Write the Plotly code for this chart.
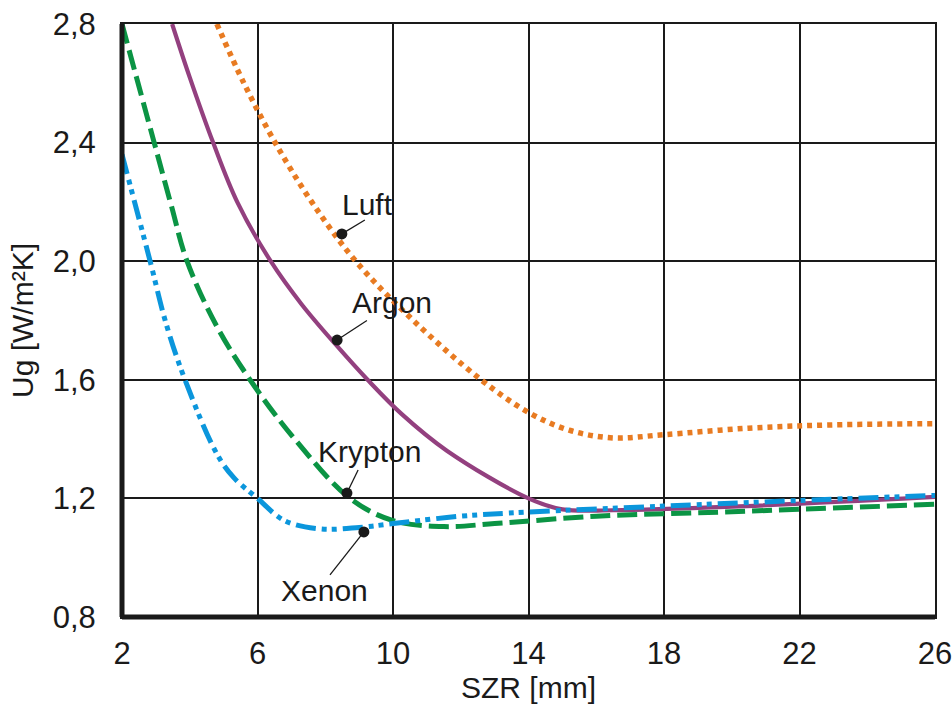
import plotly.graph_objects as go

# ---- data ----
luft_x = [4.8, 5.6, 6.52, 7.6, 8.9, 10.6, 12.6, 14, 15.2, 16.5, 18, 20.5, 23, 26]
luft_y = [2.8, 2.6, 2.4, 2.2, 2.0, 1.8, 1.6, 1.49, 1.43, 1.404, 1.415, 1.437, 1.448, 1.452]

argon_x = [3.48, 4.0, 4.69, 5.4, 6.39, 7.3, 8.3, 9.25, 10.25, 11.6, 14, 15, 16.5, 20, 26]
argon_y = [2.8, 2.62, 2.4, 2.2, 2.0, 1.855, 1.72, 1.6, 1.485, 1.36, 1.2, 1.163, 1.16, 1.172, 1.205]

krypton_x = [2, 2.95, 3.45, 3.92, 4.8, 5.84, 7.1, 8.73, 10, 11.5, 13, 16, 20, 26]
krypton_y = [2.8, 2.4, 2.19, 2.0, 1.78, 1.59, 1.40, 1.2, 1.125, 1.105, 1.115, 1.14, 1.155, 1.18]

xenon_x = [2, 2.83, 3.3, 3.86, 4.8, 5.3, 6.0, 6.8, 7.85, 9, 10, 12, 14, 18, 22, 26]
xenon_y = [2.36, 2.0, 1.79, 1.6, 1.35, 1.27, 1.2, 1.125, 1.097, 1.102, 1.115, 1.14, 1.154, 1.174, 1.193, 1.21]

# labels: name, dot, leader end, text position
label_names = ["Luft", "Argon", "Krypton", "Xenon"]
dot_x = [8.49, 8.35, 8.64, 9.14]
dot_y = [2.092, 1.734, 1.218, 1.087]
lead_x = [9.17, 9.23, 8.97, 8.14]
lead_y = [2.139, 1.80, 1.296, 0.942]
text_x = [9.26, 9.97, 9.32, 7.99]
text_y = [2.19, 1.862, 1.357, 0.891]

x_ticks = [2, 6, 10, 14, 18, 22, 26]
y_ticks = [0.8, 1.2, 1.6, 2.0, 2.4, 2.8]

FONT = "Liberation Sans, Arial, sans-serif"
INK = "#1a1a1a"

fig = go.Figure()
fig.add_trace(go.Scatter(x=luft_x, y=luft_y, mode="lines", name="Luft",
                         line=dict(color="#E87B22", width=5.5, dash="5px,5px", shape="spline", smoothing=1)))
fig.add_trace(go.Scatter(x=argon_x, y=argon_y, mode="lines", name="Argon",
                         line=dict(color="#93407F", width=4.2, shape="spline", smoothing=1)))
fig.add_trace(go.Scatter(x=krypton_x, y=krypton_y, mode="lines", name="Krypton",
                         line=dict(color="#0B9444", width=5, dash="20px,7px", shape="spline", smoothing=1)))
fig.add_trace(go.Scatter(x=xenon_x, y=xenon_y, mode="lines", name="Xenon",
                         line=dict(color="#0B96DC", width=5, dash="20px,6px,5px,5px,5px,6px",
                                   shape="spline", smoothing=1)))

# leader lines
for i in range(len(label_names)):
    fig.add_trace(go.Scatter(x=[dot_x[i], lead_x[i]], y=[dot_y[i], lead_y[i]], mode="lines",
                             line=dict(color=INK, width=1.3), hoverinfo="skip"))
# dots
fig.add_trace(go.Scatter(x=dot_x, y=dot_y, mode="markers",
                         marker=dict(color=INK, size=11), hoverinfo="skip"))

for i, name in enumerate(label_names):
    fig.add_annotation(x=text_x[i], y=text_y[i], text=name, showarrow=False,
                       font=dict(family=FONT, size=30, color=INK),
                       xanchor="center", yanchor="middle")

# thick left / bottom axes
fig.add_shape(type="line", xref="paper", yref="paper", x0=0, x1=0, y0=0, y1=1,
              line=dict(color=INK, width=5))
fig.add_shape(type="line", xref="paper", yref="paper", x0=0, x1=1, y0=0, y1=0,
              line=dict(color=INK, width=5))

fig.update_layout(
    width=952, height=706,
    margin=dict(l=122, r=17, t=24, b=89),
    paper_bgcolor="white", plot_bgcolor="white",
    showlegend=False,
    separators=",.",
    font=dict(family=FONT, size=31, color=INK),
    xaxis=dict(range=[2, 26], tickvals=x_ticks, showgrid=True, gridcolor=INK, gridwidth=2.2,
               showline=True, linecolor=INK, linewidth=2, mirror=True, zeroline=False,
               ticks="", ticklabelstandoff=8, automargin=False, ticklabeloverflow="allow",
               tickfont=dict(size=31),
               title=dict(text="SZR [mm]", font=dict(size=30), standoff=0)),
    yaxis=dict(range=[0.8, 2.8], tickvals=y_ticks, tickformat=".1f", showgrid=True,
               gridcolor=INK, gridwidth=2.2,
               showline=True, linecolor=INK, linewidth=2, mirror=True, zeroline=False,
               ticks="", ticklabelstandoff=18, automargin=False, ticklabeloverflow="allow",
               tickfont=dict(size=31),
               title=dict(text="Ug [W/m²K]", font=dict(size=30), standoff=10)),
)

fig.write_html("out.html")
